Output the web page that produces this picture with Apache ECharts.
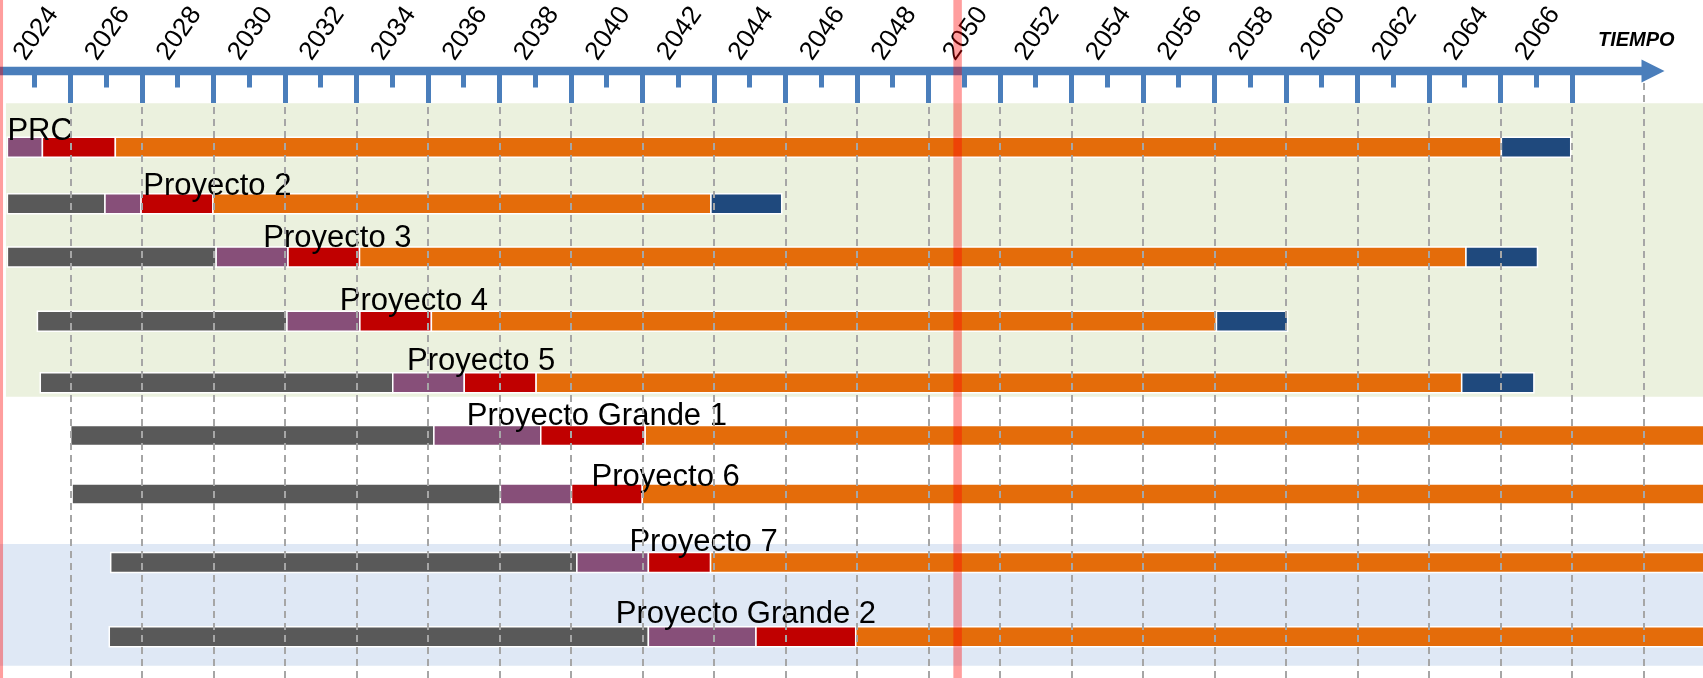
<!DOCTYPE html>
<html>
<head>
<meta charset="utf-8">
<script src="https://cdn.jsdelivr.net/npm/echarts@6.0.0/dist/echarts.min.js"></script>
<style>
  html, body { margin: 0; padding: 0; background: #ffffff; }
  #chart { width: 1703px; height: 678px; }
</style>
</head>
<body>
<div id="chart"></div>
<script>
// ---- datos (años) ----
const proyectos = ['PRC', 'Proyecto 2', 'Proyecto 3', 'Proyecto 4', 'Proyecto 5',
  'Proyecto Grande 1', 'Proyecto 6', 'Proyecto 7', 'Proyecto Grande 2'];

// inicio de cada fila y fin de cada fase (null = la fase no existe)
const inicioFila = [2023.24, 2023.24, 2023.24, 2024.08, 2024.16, 2025.01, 2025.05, 2026.13, 2026.09];
const finGris    = [null, 2025.97, 2029.08, 2031.06, 2034.02, 2035.17, 2037.03, 2039.17, 2041.17];
const finMorado  = [2024.22, 2026.98, 2031.09, 2033.10, 2036.02, 2038.16, 2039.02, 2041.17, 2044.18];
const finRojo    = [2026.26, 2028.99, 2033.09, 2035.10, 2038.03, 2041.08, 2041.00, 2042.91, 2046.97];
const finNaranja = [2065.03, 2042.92, 2064.04, 2057.06, 2063.92, 2072, 2072, 2072, 2072];
const finAzul    = [2066.97, 2044.90, 2066.04, 2059.05, 2065.94, null, null, null, null];

// año donde empieza el texto de cada proyecto
const anioEtiqueta = [2023.24, 2027.04, 2030.40, 2032.54, 2034.42, 2036.09, 2039.58, 2040.64, 2040.26];

// eje de tiempo
const aniosEtiqueta = [2024, 2026, 2028, 2030, 2032, 2034, 2036, 2038, 2040, 2042, 2044,
  2046, 2048, 2050, 2052, 2054, 2056, 2058, 2060, 2062, 2064, 2066];
const aniosTickLargo = [2025, 2027, 2029, 2031, 2033, 2035, 2037, 2039, 2041, 2043, 2045,
  2047, 2049, 2051, 2053, 2055, 2057, 2059, 2061, 2063, 2065, 2067];
const aniosRejilla = [2025, 2027, 2029, 2031, 2033, 2035, 2037, 2039, 2041, 2043, 2045,
  2047, 2049, 2051, 2053, 2055, 2057, 2059, 2061, 2063, 2065, 2067, 2069];

// líneas rojas verticales
const aniosMarca = [2023.0, 2049.82];

// ---- maquetación ----
const X_2024 = 34.55;     // px del año 2024
const PX_ANIO = 35.75;    // px por año
const ANCHO = 1703, ALTO = 678;
const EJE_Y = 71;         // px de la línea del eje
const xMin = 2024 - X_2024 / PX_ANIO;
const xMax = 2024 + (ANCHO - X_2024) / PX_ANIO;

// carriles verticales de las filas (en unidades de fila)
const carril = [0, 0.922, 1.793, 2.843, 3.848, 4.711, 5.667, 6.787, 8.0];
const FILA_PX = 61.175, FILA1_Y = 147.3;
const yMin = (EJE_Y - FILA1_Y) / FILA_PX;
const yMax = (ALTO - FILA1_Y) / FILA_PX;
// ajuste vertical (px) de cada nombre respecto a su barra
const ajusteNombre = [-0.7, -1.4, -2.7, -4.6, -6.1, -3.2, -0.7, -4.2, -6.8];

const bandas = [
  { desde: 2023.2, arriba: -0.719, abajo: 4.077, color: '#ebf1de' },
  { desde: 2022.0, arriba: 6.484, abajo: 8.474, color: '#dfe8f5' },
];

const COLORES_FASE = ['#595959', '#874f79', '#c00000', '#e46c0a', '#1f497d'];
const AZUL_EJE = '#4a7ebb';
const ALTO_BARRA = 20;
const FUENTE = "'Liberation Sans', Arial, sans-serif";

// segmentos [desde, hasta, carril, fase]
const finesFase = [finGris, finMorado, finRojo, finNaranja, finAzul];
const barras = [];
proyectos.forEach((nombre, i) => {
  let desde = inicioFila[i];
  finesFase.forEach((fines, f) => {
    const hasta = fines[i];
    if (hasta == null) return;
    barras.push([desde, hasta, carril[i], f]);
    desde = hasta;
  });
});

const chart = echarts.init(document.getElementById('chart'));

const option = {
  animation: false,
  backgroundColor: '#ffffff',
  title: {
    text: 'TIEMPO',
    left: 1598,
    top: 30,
    padding: 0,
    textStyle: { fontSize: 20, fontWeight: 'bold', fontStyle: 'italic', color: '#000', fontFamily: FUENTE },
  },
  grid: [
    { left: 0, right: 0, top: EJE_Y, bottom: 0 },
    // sólo para la línea del eje con la flecha
    { left: 0, top: EJE_Y, width: 1653, height: 1 },
  ],
  xAxis: [
    {
      // eje de datos + rejilla discontinua
      gridIndex: 0, type: 'value', position: 'top', min: xMin, max: xMax, z: 3,
      axisLine: { show: false, onZero: false },
      axisTick: { show: false, customValues: aniosRejilla },
      axisLabel: { show: false },
      splitLine: { show: true, lineStyle: { color: '#a6a6a6', width: 2, type: [7, 5] } },
    },
    {
      // ticks largos (años impares)
      gridIndex: 0, type: 'value', position: 'top', min: xMin, max: xMax, z: 4,
      axisLine: { show: false, onZero: false },
      axisTick: { show: true, inside: true, length: 32, customValues: aniosTickLargo,
        lineStyle: { color: AZUL_EJE, width: 5 } },
      axisLabel: { show: false },
      splitLine: { show: false },
    },
    {
      // ticks cortos + años
      gridIndex: 0, type: 'value', position: 'top', min: xMin, max: xMax, z: 4,
      axisLine: { show: false, onZero: false },
      axisTick: { show: true, inside: true, length: 16.5, customValues: aniosEtiqueta,
        lineStyle: { color: AZUL_EJE, width: 5 } },
      axisLabel: {
        show: true, customValues: aniosEtiqueta, rotate: -55, align: 'center', verticalAlign: 'middle',
        margin: 35, fontSize: 26, fontFamily: FUENTE, color: '#000',
        padding: [9, 0, 0, 6],
        formatter: (v) => String(v),
      },
      splitLine: { show: false },
    },
    {
      // línea del eje con flecha
      gridIndex: 1, type: 'value', position: 'top', min: 0, max: 1, z: 4,
      axisLine: { show: true, onZero: false, symbol: ['none', 'triangle'], symbolSize: [23, 23],
        lineStyle: { color: AZUL_EJE, width: 8.3 } },
      axisTick: { show: false },
      axisLabel: { show: false },
      splitLine: { show: false },
    },
  ],
  yAxis: [
    { gridIndex: 0, type: 'value', inverse: true, min: yMin, max: yMax, show: false },
    { gridIndex: 1, type: 'value', min: 0, max: 1, show: false },
  ],
  series: [
    {
      name: 'bandas', type: 'custom', z: 1, clip: false,
      xAxisIndex: 0, yAxisIndex: 0,
      data: bandas.map((b, i) => [b.desde, b.arriba, b.abajo, i]),
      renderItem: (params, api) => {
        const b = bandas[api.value(3)];
        const p0 = api.coord([api.value(0), api.value(1)]);
        const p1 = api.coord([2072, api.value(2)]);
        return {
          type: 'rect',
          shape: { x: p0[0], y: p0[1], width: p1[0] - p0[0], height: p1[1] - p0[1] },
          style: { fill: b.color },
        };
      },
    },
    {
      name: 'fases', type: 'custom', z: 2, clip: false,
      xAxisIndex: 0, yAxisIndex: 0,
      encode: { x: [0, 1], y: 2 },
      data: barras,
      renderItem: (params, api) => {
        const a = api.coord([api.value(0), api.value(2)]);
        const b = api.coord([api.value(1), api.value(2)]);
        return {
          type: 'rect',
          shape: { x: a[0], y: a[1] - ALTO_BARRA / 2, width: b[0] - a[0], height: ALTO_BARRA },
          style: { fill: COLORES_FASE[api.value(3)], stroke: '#ffffff', lineWidth: 1.5 },
        };
      },
    },
    {
      name: 'nombres', type: 'custom', z: 2, clip: false,
      xAxisIndex: 0, yAxisIndex: 0,
      data: proyectos.map((n, i) => [anioEtiqueta[i], carril[i], i]),
      renderItem: (params, api) => {
        const i = api.value(2);
        const p = api.coord([api.value(0), api.value(1)]);
        return {
          type: 'text',
          x: p[0],
          y: p[1] + ajusteNombre[i],
          style: {
            text: proyectos[i],
            fill: '#000',
            font: '31px ' + FUENTE,
            align: 'left',
            verticalAlign: 'bottom',
          },
        };
      },
    },
    {
      name: 'marcas', type: 'custom', z: 6, clip: false,
      xAxisIndex: 0, yAxisIndex: 0,
      data: aniosMarca.map((a) => [a, 0]),
      renderItem: (params, api) => {
        const p = api.coord([api.value(0), 0]);
        return {
          type: 'rect',
          shape: { x: p[0] - 4.25, y: 0, width: 8.5, height: api.getHeight() },
          style: { fill: 'rgba(255, 0, 0, 0.38)' },
        };
      },
    },
  ],
};

chart.setOption(option);
</script>
</body>
</html>
